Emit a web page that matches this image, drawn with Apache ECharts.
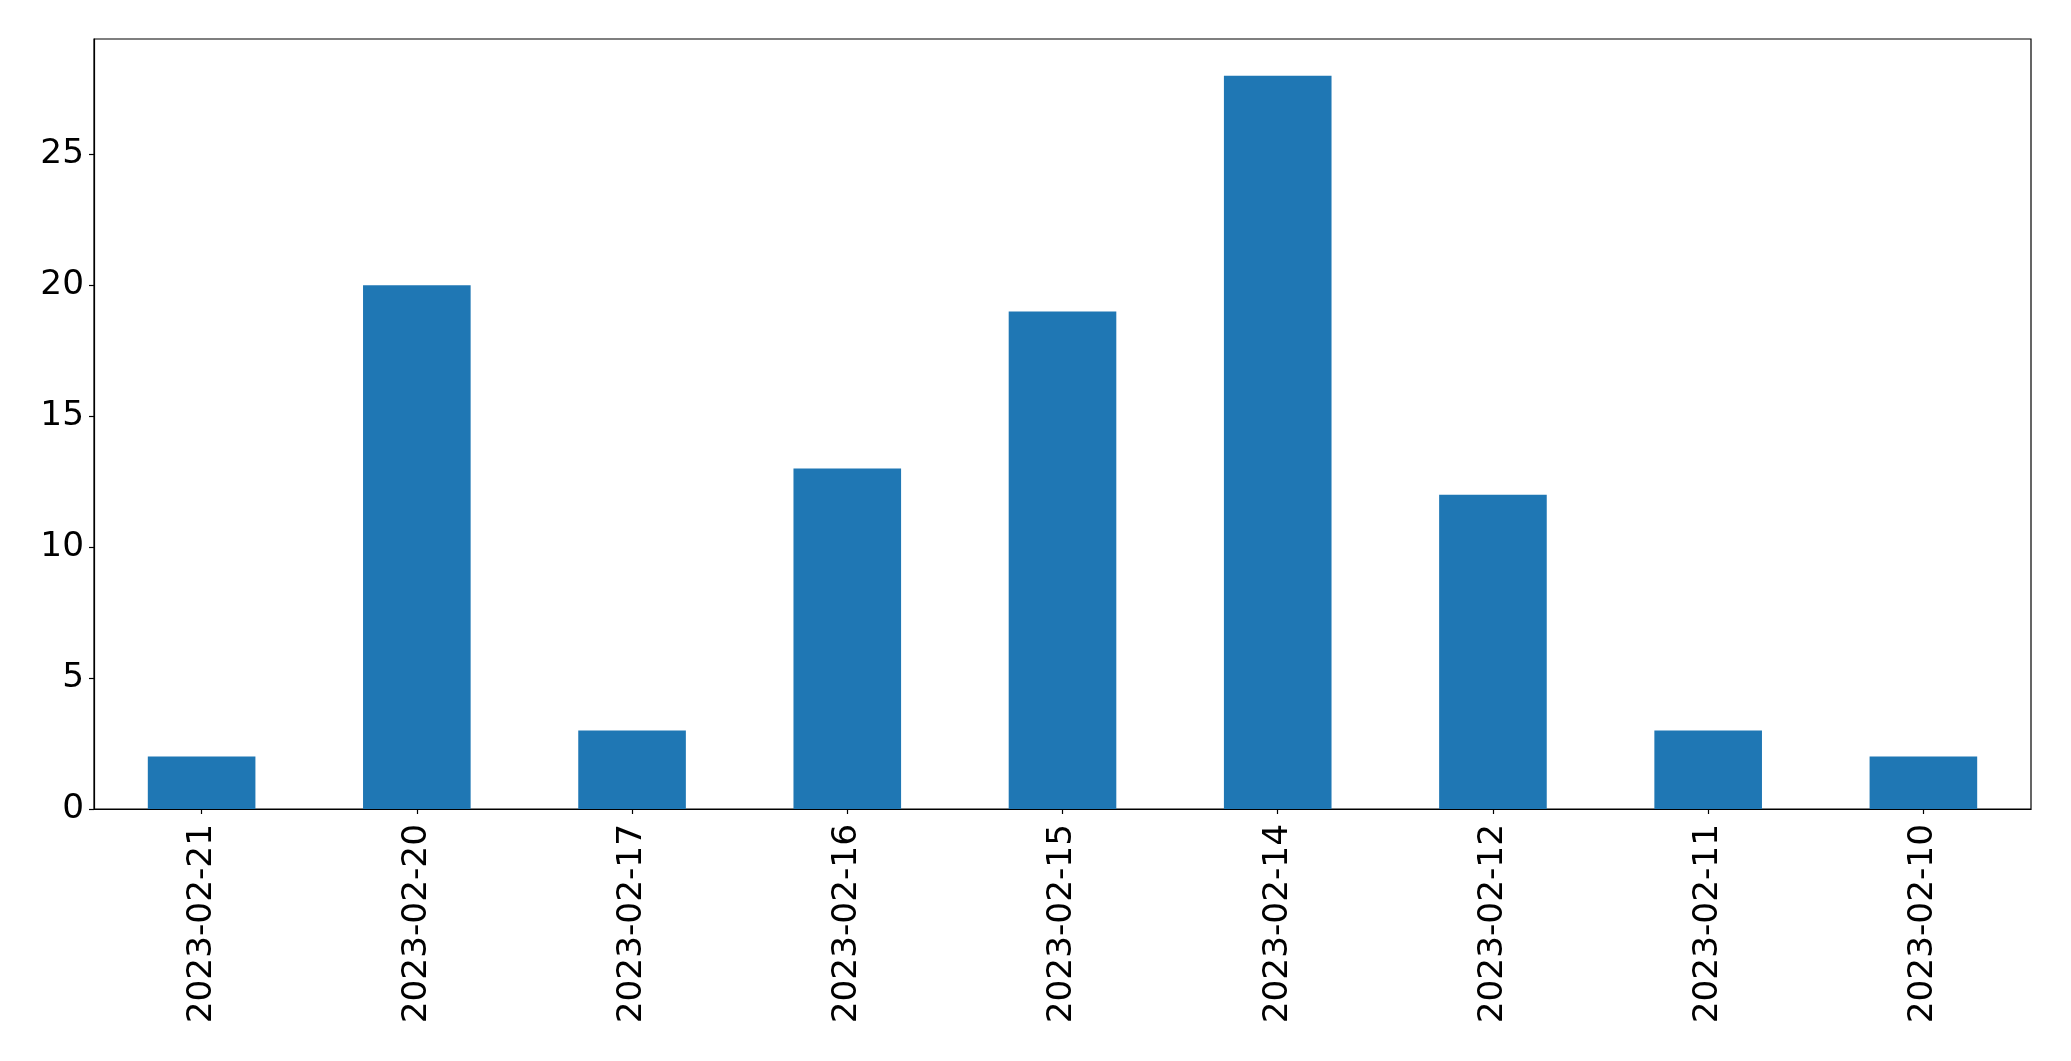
<!DOCTYPE html>
<html>
<head>
<meta charset="utf-8">
<script src="https://cdn.jsdelivr.net/npm/echarts@6/dist/echarts.min.js"></script>
<style>
html,body{margin:0;padding:0;background:#fff;}
#chart{width:2071px;height:1061px;}
</style>
</head>
<body>
<div id="chart"></div>
<script>
const categories = ['2023-02-21','2023-02-20','2023-02-17','2023-02-16','2023-02-15','2023-02-14','2023-02-12','2023-02-11','2023-02-10'];
const values = [2, 20, 3, 13, 19, 28, 12, 3, 2];
const yTicks = [0, 5, 10, 15, 20, 25];

const chart = echarts.init(document.getElementById('chart'), null, {renderer:'canvas'});
const font = 'DejaVu Sans';
chart.setOption({
  animation: false,
  backgroundColor: '#ffffff',
  grid: {left: 94, right: 40, top: 39, bottom: 252, show: true, borderColor: '#000', borderWidth: 1.2, backgroundColor: 'transparent'},
  xAxis: {
    type: 'category',
    data: categories,
    boundaryGap: true,
    axisLine: {show: true, lineStyle: {color: '#000', width: 1.2}},
    axisTick: {show: true, alignWithLabel: true, length: 5, lineStyle: {color: '#000', width: 1.2}},
    axisLabel: {rotate: 90, margin: 15, color: '#000', fontSize: 34.3, fontFamily: font, interval: 0}
  },
  yAxis: {
    type: 'value',
    min: 0,
    max: 29.4,
    interval: 5,
    splitLine: {show: false},
    axisLine: {show: true, lineStyle: {color: '#000', width: 1.2}},
    axisTick: {show: true, length: 5, lineStyle: {color: '#000', width: 1.2}},
    axisLabel: {
      margin: 10, color: '#000', fontSize: 34.3, fontFamily: font, showMaxLabel: false,
      formatter: v => yTicks.includes(v) ? String(v) : ''
    }
  },
  series: [{
    type: 'bar',
    data: values,
    barWidth: '50%',
    itemStyle: {color: '#1f77b4'}
  }]
});
</script>
</body>
</html>
